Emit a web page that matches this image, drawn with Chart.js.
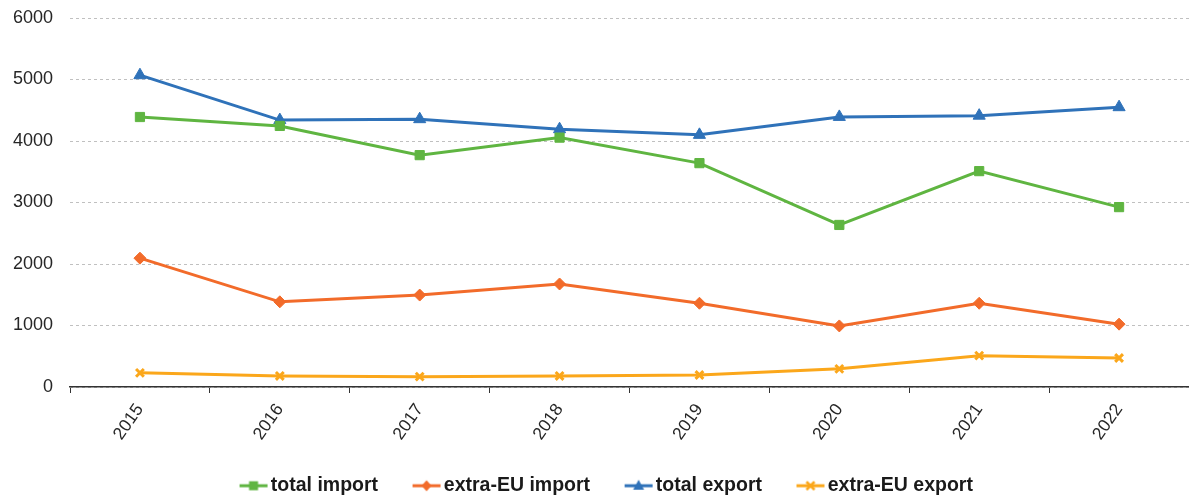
<!DOCTYPE html>
<html>
<head>
<meta charset="utf-8">
<script src="https://cdn.jsdelivr.net/npm/chart.js@4/dist/chart.umd.min.js"></script>
<style>
  html, body { margin: 0; padding: 0; background: #fff; }
  #wrap { width: 1189px; height: 495px; position: relative; }
</style>
</head>
<body>
<div id="wrap"><canvas id="tradeChart"></canvas></div>
<script>
// categories
var years = ['2015', '2016', '2017', '2018', '2019', '2020', '2021', '2022'];
// series values
var totalImport   = [4390, 4245, 3770, 4055, 3640, 2635, 3510, 2925];
var extraEuImport = [2095, 1385, 1495, 1675, 1362, 993, 1362, 1022];
var totalExport   = [5070, 4340, 4355, 4192, 4100, 4392, 4412, 4550];
var extraEuExport = [230, 180, 168, 180, 195, 295, 510, 472];
// y tick range
var yMin = 0, yMax = 6000, yStep = 1000;

var FONT = '"Liberation Sans", Arial, sans-serif';

// small canvas used as legend symbol: line with a marker on it
function legendSymbol(color, style) {
    var c = document.createElement('canvas');
    c.width = 60; c.height = 14;
    var g = c.getContext('2d');
    var cx = 45, cy = 7;
    g.strokeStyle = color;
    g.fillStyle = color;
    g.lineWidth = 3;
    g.beginPath(); g.moveTo(31, cy); g.lineTo(59, cy); g.stroke();
    g.beginPath();
    if (style === 'rect') {
        g.rect(cx - 4.5, cy - 4.5, 9, 9); g.fill();
    } else if (style === 'rectRot') {
        g.moveTo(cx, cy - 5.5); g.lineTo(cx + 5, cy); g.lineTo(cx, cy + 5.5); g.lineTo(cx - 5, cy); g.closePath(); g.fill();
    } else if (style === 'triangle') {
        g.moveTo(cx, cy - 6); g.lineTo(cx + 5.5, cy + 4); g.lineTo(cx - 5.5, cy + 4); g.closePath(); g.fill();
    } else {
        g.lineWidth = 2.5;
        g.moveTo(cx - 4, cy - 4); g.lineTo(cx + 4, cy + 4);
        g.moveTo(cx + 4, cy - 4); g.lineTo(cx - 4, cy + 4); g.stroke();
    }
    return c;
}

function series(label, data, color, style, radius) {
    return {
        label: label,
        data: data,
        borderColor: color,
        backgroundColor: color,
        borderWidth: 3,
        tension: 0,
        pointStyle: style,
        pointRadius: radius,
        pointHoverRadius: radius,
        pointBackgroundColor: color,
        pointBorderColor: color,
        pointBorderWidth: style === 'crossRot' ? 3 : 1,
        legendSymbol: legendSymbol(color, style)
    };
}

var ctx = document.getElementById('tradeChart');
var tradeChart = new Chart(ctx, {
    type: 'line',
    data: {
        labels: years,
        datasets: [
            series('total import', totalImport, '#5fb541', 'rect', 6.5),
            series('extra-EU import', extraEuImport, '#f26b2a', 'rectRot', 6),
            series('total export', totalExport, '#2f72b9', 'triangle', 7),
            series('extra-EU export', extraEuExport, '#fba71b', 'crossRot', 5.5)
        ]
    },
    options: {
        responsive: true,
        maintainAspectRatio: false,
        animation: false,
        layout: { autoPadding: false, padding: { top: 18, right: 0, bottom: 0, left: 0 } },
        plugins: {
            tooltip: { enabled: false },
            legend: {
                position: 'bottom',
                maxHeight: 30,
                labels: {
                    usePointStyle: true,
                    pointStyleWidth: 45,
                    padding: 11,
                    color: '#1a1a1a',
                    font: { family: FONT, size: 19.5, weight: 'bold' },
                    generateLabels: function (chart) {
                        return chart.data.datasets.map(function (ds, i) {
                            return {
                                text: ds.label,
                                pointStyle: ds.legendSymbol,
                                fillStyle: ds.borderColor,
                                strokeStyle: ds.borderColor,
                                fontColor: '#1a1a1a',
                                lineWidth: 0,
                                hidden: false,
                                datasetIndex: i
                            };
                        });
                    }
                }
            }
        },
        scales: {
            x: {
                offset: true,
                grid: {
                    offset: true,
                    drawOnChartArea: false,
                    drawTicks: true,
                    tickLength: 6,
                    color: '#333'
                },
                border: { display: true, color: '#333', width: 1.5 },
                ticks: {
                    minRotation: 55,
                    maxRotation: 55,
                    padding: 7,
                    color: '#262626',
                    font: { family: FONT, size: 17.5 }
                },
                afterFit: function (scale) {
                    scale.height = 78;
                    scale.paddingLeft = 0;
                    scale.paddingRight = 0;
                }
            },
            y: {
                min: yMin,
                max: yMax,
                grid: {
                    color: '#c0c0c0',
                    drawTicks: false
                },
                border: { display: false, dash: [3, 3] },
                ticks: {
                    stepSize: yStep,
                    padding: 17,
                    color: '#262626',
                    font: { family: FONT, size: 18 },
                    callback: function (v) { return String(v); }
                },
                afterFit: function (scale) {
                    scale.width = 70;
                    scale.paddingTop = 0;
                    scale.paddingBottom = 0;
                }
            }
        }
    }
});
</script>
</body>
</html>
